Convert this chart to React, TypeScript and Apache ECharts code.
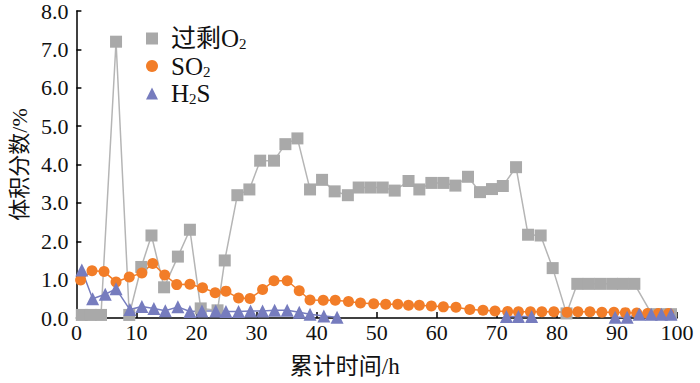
import React, { useEffect, useRef } from "react";
import * as echarts from "echarts";

const o2Time = [0.9, 2.4, 4.1, 6.6, 8.8, 10.8, 12.5, 14.6, 16.9, 18.9, 20.7, 23.5, 24.7, 26.8, 28.8, 30.6, 32.9, 34.8, 36.8, 38.9, 40.9, 43.0, 45.2, 47.0, 49.0, 51.0, 53.0, 55.3, 57.1, 59.1, 61.1, 63.1, 65.2, 67.2, 69.2, 71.0, 73.2, 75.2, 77.3, 79.3, 81.6, 83.4, 85.3, 87.2, 89.2, 91.0, 92.9, 95.8, 97.5, 99.0];
const o2Values = [0.08, 0.08, 0.08, 7.2, 0.08, 1.33, 2.15, 0.8, 1.6, 2.3, 0.25, 0.2, 1.5, 3.2, 3.35, 4.1, 4.1, 4.53, 4.68, 3.35, 3.6, 3.3, 3.2, 3.4, 3.4, 3.4, 3.32, 3.57, 3.35, 3.52, 3.52, 3.45, 3.68, 3.28, 3.36, 3.44, 3.93, 2.17, 2.15, 1.3, 0.12, 0.89, 0.89, 0.89, 0.89, 0.89, 0.89, 0.1, 0.1, 0.1];

const so2Time = [0.7, 2.6, 4.6, 6.6, 8.8, 10.9, 12.7, 14.7, 16.7, 18.9, 21.0, 23.1, 24.9, 27.0, 28.9, 31.0, 32.9, 35.1, 37.1, 38.9, 41.1, 43.1, 45.3, 47.3, 49.5, 51.5, 53.5, 55.3, 57.1, 59.1, 61.1, 63.2, 65.5, 67.7, 69.7, 71.8, 73.6, 75.6, 77.5, 79.5, 81.7, 83.5, 85.5, 87.5, 89.5, 91.4, 93.3, 95.1, 96.9, 98.6];
const so2Values = [0.99, 1.23, 1.21, 0.94, 1.07, 1.17, 1.42, 1.12, 0.87, 0.88, 0.79, 0.66, 0.7, 0.52, 0.51, 0.74, 0.97, 0.97, 0.71, 0.47, 0.46, 0.46, 0.43, 0.39, 0.37, 0.36, 0.36, 0.33, 0.33, 0.31, 0.29, 0.28, 0.22, 0.2, 0.18, 0.17, 0.16, 0.16, 0.16, 0.16, 0.15, 0.16, 0.16, 0.15, 0.15, 0.14, 0.13, 0.12, 0.12, 0.12];

const h2sTime = [0.9, 2.7, 4.8, 6.6, 8.9, 10.9, 12.9, 14.8, 16.9, 18.9, 20.9, 23.2, 24.9, 27.0, 29.0, 31.0, 33.0, 35.1, 37.1, 38.9, 41.2, 43.4, 57.0, 71.6, 73.6, 75.8, 82.0, 89.7, 91.7, 93.7, 95.7, 97.4, 99.0];
const h2sValues: (number | null)[] = [1.25, 0.5, 0.62, 0.76, 0.22, 0.3, 0.25, 0.19, 0.29, 0.17, 0.18, 0.18, 0.17, 0.17, 0.18, 0.18, 0.2, 0.2, 0.15, 0.1, 0.05, 0.02, null, 0.04, 0.04, 0.04, null, 0.02, 0.02, 0.1, 0.1, 0.1, 0.1];

const seriesNames = ["过剩O2", "SO2", "H2S"];
const legendLabels: Record<string, string> = {
  "过剩O2": "过剩O{sub|2}",
  SO2: "SO{sub|2}",
  H2S: "H{sub|2}S",
};
const yTicks = [0, 1, 2, 3, 4, 5, 6, 7, 8];

const FONT = "'Liberation Serif', 'Noto Sans CJK SC', serif";

const pair = (t: number[], v: (number | null)[]) => t.map((x, i) => [x, v[i]]);

export default function App() {
  const ref = useRef<HTMLDivElement>(null);
  useEffect(() => {
    if (!ref.current) return;
    const chart = echarts.init(ref.current, undefined, { renderer: "svg" });
    chart.setOption({
      animation: false,
      backgroundColor: "#ffffff",
      grid: { left: 73, right: 23, top: 7, bottom: 62, containLabel: false },
      legend: {
        orient: "vertical",
        left: 146,
        top: 26,
        padding: 0,
        itemWidth: 12,
        itemHeight: 12,
        itemGap: 2,
        textStyle: {
          fontFamily: FONT,
          fontSize: 25,
          color: "#111",
          padding: [0, 0, 0, 8],
          rich: {
            sub: { fontFamily: FONT, fontSize: 15, verticalAlign: "bottom", padding: [11, 0, 0, 0], color: "#111" },
          },
        },
        formatter: (name: string) => legendLabels[name] || name,
        data: [
          { name: seriesNames[0], icon: "rect" },
          { name: seriesNames[1], icon: "circle" },
          { name: seriesNames[2], icon: "triangle" },
        ],
      },
      xAxis: {
        type: "value",
        min: 0,
        max: 100,
        interval: 10,
        name: "累计时间/h",
        nameLocation: "middle",
        nameGap: 37,
        nameTextStyle: { fontFamily: FONT, fontSize: 23, color: "#111", padding: [0, 64, 0, 0] },
        axisLine: { show: true, lineStyle: { color: "#000", width: 1.5 } },
        axisTick: { show: true, inside: true, length: 6, lineStyle: { color: "#000", width: 1.5 } },
        axisLabel: { fontFamily: FONT, fontSize: 22, color: "#111", margin: 3 },
        splitLine: { show: false },
      },
      yAxis: {
        type: "value",
        min: 0,
        max: 8,
        interval: 1,
        name: "体积分数/%",
        nameLocation: "middle",
        nameGap: 45,
        nameTextStyle: { fontFamily: FONT, fontSize: 22, color: "#111" },
        axisLine: { show: true, lineStyle: { color: "#000", width: 1.5 } },
        axisTick: { show: true, inside: true, length: 5, lineStyle: { color: "#000", width: 1.5 } },
        axisLabel: {
          fontFamily: FONT,
          fontSize: 22,
          color: "#111",
          margin: 8,
          formatter: (v: number) => (yTicks.includes(v) ? v.toFixed(1) : ""),
        },
        splitLine: { show: false },
      },
      series: [
        {
          name: seriesNames[0],
          type: "line",
          data: pair(o2Time, o2Values),
          symbol: "rect",
          symbolSize: 12,
          itemStyle: { color: "#a9a9a9" },
          lineStyle: { color: "#b5b5b5", width: 1.5 },
        },
        {
          name: seriesNames[1],
          type: "line",
          data: pair(so2Time, so2Values),
          symbol: "circle",
          symbolSize: 11,
          itemStyle: { color: "#f27d28" },
          lineStyle: { color: "#f27d28", width: 1.5 },
        },
        {
          name: seriesNames[2],
          type: "line",
          data: pair(h2sTime, h2sValues),
          connectNulls: false,
          symbol: "triangle",
          symbolSize: 13,
          itemStyle: { color: "#767cbe" },
          lineStyle: { color: "#767cbe", width: 1.5 },
        },
      ],
    });
    return () => chart.dispose();
  }, []);
  return <div ref={ref} style={{ width: 700, height: 383, position: "absolute", left: 0, top: 0 }} />;
}
